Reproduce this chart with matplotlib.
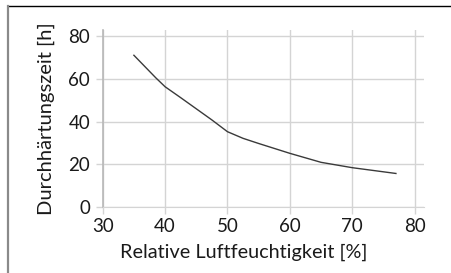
import matplotlib

matplotlib.use("Agg")

import matplotlib.pyplot as plt
from matplotlib.lines import Line2D

# relative humidity [%] vs. curing time [h]
humidity = [35, 38.5, 40, 42.5, 45, 47.5, 50, 52.5, 55, 60, 65, 70, 77]
curing_time = [71, 60.5, 56.3, 51.2, 46, 40.8, 35.3, 32.2, 29.8, 25.2, 21, 18.5, 15.8]

x_ticks = [30, 40, 50, 60, 70, 80]
y_ticks = [0, 20, 40, 60, 80]

plt.rcParams["font.family"] = ["Lato", "DejaVu Sans"]

fig = plt.figure(figsize=(4.52, 2.73), dpi=100)
ax = fig.add_axes([102.7 / 452, 1 - 207.3 / 273, (424 - 102.7) / 452, (207.3 - 30) / 273])

grid_col = "#d4d4d4"
ax.plot(humidity, curing_time, color="#3a3a3a", linewidth=1.0)

ax.set_xlim(30, 81.5)
ax.set_ylim(0, 82.8)
ax.set_xticks(x_ticks)
ax.set_yticks(y_ticks)
ax.grid(True, color=grid_col, linewidth=1.0)
ax.set_axisbelow(True)

for side in ("top", "right"):
    ax.spines[side].set_visible(False)
ax.spines["left"].set_color("#b8b8b8")
ax.spines["bottom"].set_color(grid_col)
ax.spines["left"].set_linewidth(1.2)
ax.tick_params(axis="both", length=5, color=grid_col, width=1.0,
               labelsize=13.5, labelcolor="#1a1a1a")
ax.tick_params(axis="y", pad=4)
ax.tick_params(axis="x", pad=3)

ax.set_xlabel("Relative Luftfeuchtigkeit [%]", fontsize=14.3, color="#1a1a1a")
ax.xaxis.set_label_coords(0.44, -0.205)
ax.set_ylabel("Durchhärtungszeit [h]", fontsize=14.5, color="#1a1a1a", labelpad=10)

# outer frame from the cropped source figure
fig.add_artist(Line2D([8 / 452, 1], [1 - 5.5 / 273] * 2, color="#000000", linewidth=1.0,
                      transform=fig.transFigure))
fig.add_artist(Line2D([8 / 452] * 2, [0, 1 - 5.5 / 273], color="#8a8a8a", linewidth=1.6,
                      transform=fig.transFigure))

fig.savefig("out.png", dpi=100)
